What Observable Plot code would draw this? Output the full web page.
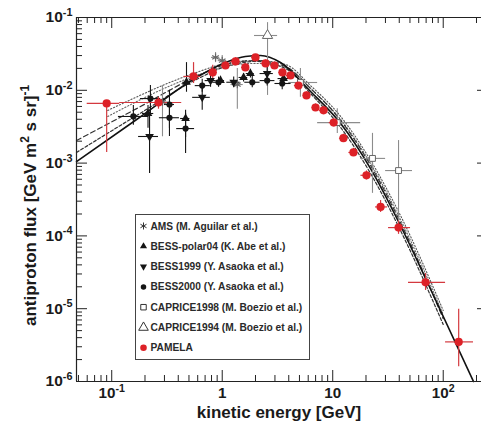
<!DOCTYPE html>
<html><head><meta charset="utf-8">
<script src="https://cdn.jsdelivr.net/npm/d3@7"></script>
<script src="https://cdn.jsdelivr.net/npm/@observablehq/plot@0.6"></script>
<style>
body{margin:0;background:#fff;}
#chart{position:relative;width:481px;height:427px;overflow:hidden;}
</style></head><body><div id="chart"></div>
<script>
// ---------- axis definitions ----------
const xDomain = [0.048, 222];
const yDomain = [1e-6, 0.1];
const xMajor = [0.1, 1, 10, 100];
const xMajorLabels = ["10^{-1}", "1", "10", "10^{2}"];
const xMinor = [0.05,0.06,0.07,0.08,0.09,0.2,0.3,0.4,0.5,0.6,0.7,0.8,0.9,2,3,4,5,6,7,8,9,20,30,40,50,60,70,80,90,200];
const yMajor = [1e-6, 1e-5, 1e-4, 1e-3, 1e-2, 1e-1];
const yMajorLabels = ["10^{-6}", "10^{-5}", "10^{-4}", "10^{-3}", "10^{-2}", "10^{-1}"];
const yMinor = [2e-6,3e-6,4e-6,5e-6,6e-6,7e-6,8e-6,9e-6,2e-5,3e-5,4e-5,5e-5,6e-5,7e-5,8e-5,9e-5,2e-4,3e-4,4e-4,5e-4,6e-4,7e-4,8e-4,9e-4,2e-3,3e-3,4e-3,5e-3,6e-3,7e-3,8e-3,9e-3,2e-2,3e-2,4e-2,5e-2,6e-2,7e-2,8e-2,9e-2];
const xTitle = "kinetic energy [GeV]";
const yTitle = "antiproton flux [GeV m^{2} s sr]^{-1}";

// ---------- model curves ----------
const solidE = [0.048, 0.168, 0.585, 1.07, 1.62, 2.22, 3.37, 6.3, 11.8, 22, 41, 72, 188];
const solidF = [1.05e-3, 3.97e-3, 0.015, 0.0241, 0.0291, 0.0301, 0.0241, 0.00964, 0.0035, 8.4e-4, 1.39e-4, 2.29e-5, 1e-6];
const dashAE = [0.048, 0.168, 0.585, 1.07, 2.0, 3.74, 6.3, 11.8, 22, 41, 100];
const dashAF = [2.04e-3, 5.6e-3, 0.0155, 0.0226, 0.0256, 0.0212, 0.0106, 3.85e-3, 9.3e-4, 1.53e-4, 7.3e-6];
const dashBE = [0.048, 0.168, 0.585, 1.07, 2.0, 3.74, 6.3, 11.8, 22, 41, 100];
const dashBF = [1.4e-3, 4.5e-3, 0.0141, 0.0212, 0.0249, 0.0199, 9.0e-3, 3.08e-3, 7.2e-4, 1.19e-4, 6.07e-6];
const dotAE = [0.092, 0.585, 1.07, 2.0, 3.74, 6.3, 11.8, 22, 41, 100];
const dotAF = [5.28e-3, 0.0176, 0.0234, 0.0256, 0.0226, 0.0116, 4.37e-3, 1.09e-3, 1.91e-4, 9.45e-6];
const dotBE = [0.092, 0.585, 1.07, 2.0, 3.74, 6.3, 11.8, 22, 41, 100];
const dotBF = [4.37e-3, 0.016, 0.0212, 0.0234, 0.0206, 0.0106, 3.97e-3, 9.9e-4, 1.68e-4, 8.32e-6];

// ---------- experiments ----------
const pamE   = [0.09, 0.265, 0.55, 0.82, 1.07, 1.32, 1.62, 2.0, 2.47, 2.97, 3.51, 4.15, 4.9, 5.79, 6.99, 8.26, 10.2, 12.5, 15.4, 20.2, 27.1, 39.4, 69.2, 138];
const pamF   = [6.6e-3, 6.8e-3, 0.0155, 0.0176, 0.0219, 0.0249, 0.0206, 0.0283, 0.0234, 0.0219, 0.0176, 0.016, 0.0116, 8.5e-3, 5.8e-3, 5.3e-3, 3.6e-3, 2.2e-3, 1.4e-3, 6.8e-4, 2.5e-4, 1.3e-4, 2.3e-5, 3.5e-6];
const pamElo = [0.06, 0.118, 0.45, 0.75, 0.98, 1.2, 1.5, 1.85, 2.25, 2.75, 3.25, 3.8, 4.5, 5.4, 6.5, 7.6, 9.3, 11.5, 14, 18, 24.4, 32, 48.5, 105];
const pamEhi = [0.118, 0.43, 0.64, 0.9, 1.16, 1.45, 1.75, 2.15, 2.7, 3.2, 3.8, 4.5, 5.3, 6.2, 7.5, 9.0, 11.1, 13.6, 16.8, 22, 31.3, 50.6, 105, 188];
const pamFlo = [1.4e-3, 5.5e-3, 0.0124, 0.0145, 0.0195, 0.0225, 0.0185, 0.0258, 0.021, 0.0197, 0.0158, 0.0143, 0.0104, 7.6e-3, 5.2e-3, 4.7e-3, 3.2e-3, 1.95e-3, 1.24e-3, 5.9e-4, 2.1e-4, 1.05e-4, 1.78e-5, 1.6e-6];
const pamFhi = [6.9e-3, 8.0e-3, 0.024, 0.022, 0.025, 0.028, 0.023, 0.031, 0.026, 0.0242, 0.0196, 0.0178, 0.013, 9.5e-3, 6.5e-3, 6.0e-3, 4.1e-3, 2.5e-3, 1.6e-3, 7.8e-4, 3.06e-4, 1.6e-4, 3.05e-5, 9.8e-6];

const amsE   = [0.288, 0.87, 1.0, 1.37];
const amsF   = [6.9e-3, 0.0283, 0.0256, 0.012];
const amsElo = [0.25, 0.8, 0.92, 1.2];
const amsEhi = [0.33, 0.95, 1.1, 1.55];
const amsFlo = [2.3e-3, 0.024, 0.022, 5.5e-3];
const amsFhi = [0.0116, 0.033, 0.03, 0.02];

const bp04E   = [0.213, 0.466, 0.475, 0.965, 1.56, 1.8, 3.59];
const bp04F   = [4.8e-3, 4.1e-3, 0.0129, 0.0136, 0.015, 0.017, 0.0145];
const bp04Elo = [0.19, 0.42, 0.44, 0.88, 1.42, 1.65, 3.2];
const bp04Ehi = [0.24, 0.51, 0.51, 1.05, 1.7, 1.95, 4.0];
const bp04Flo = [3.0e-3, 2.25e-3, 9.4e-3, 0.0118, 0.013, 0.0148, 0.0125];
const bp04Fhi = [6.2e-3, 4.8e-3, 0.024, 0.0156, 0.017, 0.0195, 0.0165];

const b99E   = [0.22, 0.659, 0.784, 1.27, 2.55];
const b99F   = [2.32e-3, 8.0e-3, 0.0136, 0.0129, 0.017];
const b99Elo = [0.175, 0.54, 0.7, 1.1, 2.2];
const b99Ehi = [0.265, 0.78, 0.88, 1.45, 2.9];
const b99Flo = [7.2e-4, 5.3e-3, 0.011, 0.0108, 0.014];
const b99Fhi = [4.5e-3, 0.011, 0.0165, 0.0152, 0.0205];

const b00E   = [0.157, 0.224, 0.333, 0.333, 0.466, 0.659, 0.926, 1.87, 2.55, 3.49];
const b00F   = [4.37e-3, 7.7e-3, 6.38e-3, 4.2e-3, 2.98e-3, 0.0116, 0.0129, 0.0129, 0.0136, 0.0124];
const b00Elo = [0.115, 0.182, 0.3, 0.27, 0.387, 0.57, 0.82, 1.6, 2.2, 3.0];
const b00Ehi = [0.216, 0.277, 0.37, 0.41, 0.562, 0.78, 1.05, 2.2, 3.0, 4.2];
const b00Flo = [3.3e-3, 4.8e-3, 2.32e-3, 3.0e-3, 1.36e-3, 9.4e-3, 0.011, 0.0108, 0.0115, 0.0102];
const b00Fhi = [6.2e-3, 0.0116, 0.01, 5.6e-3, 5.3e-3, 0.0142, 0.0152, 0.0155, 0.016, 0.015];

const c98E   = [5.1, 11.0, 22.9, 39.4];
const c98F   = [0.0128, 3.6e-3, 1.16e-3, 7.9e-4];
const c98Elo = [4.0, 7.3, 17.9, 30.1];
const c98Ehi = [7.3, 17.9, 30.1, 52.7];
const c98Flo = [8.0e-3, 2.56e-3, 3.84e-4, 1.39e-4];
const c98Fhi = [0.02, 5.6e-3, 2.56e-3, 2.04e-3];

const c94E   = [2.57];
const c94F   = [0.0566];
const c94Elo = [1.96];
const c94Ehi = [3.17];
const c94Flo = [8.5e-3];
const c94Fhi = [0.085];

const legendLabels = ["AMS (M. Aguilar et al.)", "BESS-polar04 (K. Abe et al.)", "BESS1999 (Y. Asaoka et al.)", "BESS2000 (Y. Asaoka et al.)", "CAPRICE1998 (M. Boezio et al.)", "CAPRICE1994 (M. Boezio et al.)", "PAMELA"];

// ---------- helpers ----------
const curveRows = (E, F) => E.map((e, i) => ({E: e, F: F[i]}));
const rows = (E, F, Elo, Ehi, Flo, Fhi) => E.map((e, i) => ({E: e, F: F[i], Elo: Elo[i], Ehi: Ehi[i], Flo: Flo[i], Fhi: Fhi[i]}));
const sqrt3 = Math.sqrt(3);
const triDown = {draw(ctx, size) {
  const y = -Math.sqrt(size / (sqrt3 * 3));
  ctx.moveTo(0, -y * 2); ctx.lineTo(-sqrt3 * y, y); ctx.lineTo(sqrt3 * y, y); ctx.closePath();
}};

const BLACK = "#151515", GRAY = "#8c8c8c", RED = "#dd2127", REDBAR = "#d4393f";

const pam = rows(pamE, pamF, pamElo, pamEhi, pamFlo, pamFhi);
const ams = rows(amsE, amsF, amsElo, amsEhi, amsFlo, amsFhi);
const bp04 = rows(bp04E, bp04F, bp04Elo, bp04Ehi, bp04Flo, bp04Fhi);
const b99 = rows(b99E, b99F, b99Elo, b99Ehi, b99Flo, b99Fhi);
const b00 = rows(b00E, b00F, b00Elo, b00Ehi, b00Flo, b00Fhi);
const c98 = rows(c98E, c98F, c98Elo, c98Ehi, c98Flo, c98Fhi);
const c94 = rows(c94E, c94F, c94Elo, c94Ehi, c94Flo, c94Fhi);

const errBars = (data, color, w = 1.1) => [
  Plot.ruleX(data, {x: "E", y1: "Flo", y2: "Fhi", stroke: color, strokeWidth: w}),
  Plot.ruleY(data, {y: "F", x1: "Elo", x2: "Ehi", stroke: color, strokeWidth: w})
];

const PH = 427 - 17 - 46, PW = 481 - 76;
const fontFam = "'Liberation Sans', Arial, Helvetica, sans-serif";

const plot = Plot.plot({
  width: 481, height: 427,
  marginTop: 17, marginBottom: 46, marginLeft: 76, marginRight: 0,
  x: {type: "log", domain: xDomain},
  y: {type: "log", domain: yDomain},
  style: {fontFamily: fontFam, background: "#fff", color: "#1a1a1a", overflow: "hidden"},
  marks: [
    // model curves
    Plot.line(curveRows(dotAE, dotAF), {x: "E", y: "F", curve: "monotone-x", stroke: "#555", strokeWidth: 1.1, strokeDasharray: "1.2,2"}),
    Plot.line(curveRows(dotBE, dotBF), {x: "E", y: "F", curve: "monotone-x", stroke: "#666", strokeWidth: 1.1, strokeDasharray: "1.2,2"}),
    Plot.line(curveRows(dashAE, dashAF), {x: "E", y: "F", curve: "monotone-x", stroke: "#333", strokeWidth: 1.2, strokeDasharray: "5,3"}),
    Plot.line(curveRows(dashBE, dashBF), {x: "E", y: "F", curve: "monotone-x", stroke: "#333", strokeWidth: 1.2, strokeDasharray: "3,2"}),
    Plot.line(curveRows(solidE, solidF), {x: "E", y: "F", curve: "monotone-x", stroke: "#111", strokeWidth: 1.6}),
    // error bars
    ...errBars(ams, GRAY),
    ...errBars(c98, GRAY),
    ...errBars(c94, GRAY),
    ...errBars(bp04, BLACK),
    ...errBars(b99, BLACK),
    ...errBars(b00, BLACK),
    ...errBars(pam, REDBAR, 1.2),
    // markers
    Plot.dot(ams, {x: "E", y: "F", symbol: "asterisk", r: 3.6, stroke: "#666", strokeWidth: 1.2}),
    Plot.dot(c98, {x: "E", y: "F", symbol: "square", r: 3.3, fill: "#fff", stroke: "#666", strokeWidth: 1}),
    Plot.dot(c94, {x: "E", y: "F", symbol: "triangle", r: 3.8, fill: "#fff", stroke: "#666", strokeWidth: 1}),
    Plot.dot(bp04, {x: "E", y: "F", symbol: "triangle", r: 3.2, fill: BLACK}),
    Plot.dot(b99, {x: "E", y: "F", symbol: triDown, r: 3.2, fill: BLACK}),
    Plot.dot(b00, {x: "E", y: "F", r: 3.1, fill: BLACK}),
    Plot.dot(pam, {x: "E", y: "F", r: 4.1, fill: RED}),
    // frame
    Plot.ruleX([xDomain[0]], {stroke: "#222", strokeWidth: 1.2}),
    Plot.ruleY(yDomain, {stroke: "#222", strokeWidth: 1.2}),
    // inward ticks
    Plot.tickX(xMajor, {x: d => d, insetTop: PH - 11, stroke: "#222"}),
    Plot.tickX(xMinor, {x: d => d, insetTop: PH - 6, stroke: "#222"}),
    Plot.tickX(xMajor, {x: d => d, insetBottom: PH - 11, stroke: "#222"}),
    Plot.tickX(xMinor, {x: d => d, insetBottom: PH - 6, stroke: "#222"}),
    Plot.tickY(yMajor, {y: d => d, insetRight: PW - 11, stroke: "#222"}),
    Plot.tickY(yMinor, {y: d => d, insetRight: PW - 6, stroke: "#222"}),
    Plot.tickY(yMajor, {y: d => d, insetLeft: PW - 4, stroke: "#222"}),
    // tick labels
    Plot.axisX(xMajor, {anchor: "bottom", tickSize: 0, tickPadding: 6, label: null,
      tickFormat: d => xMajorLabels[xMajor.indexOf(d)], fontSize: 15.2, fontWeight: "bold"}),
    Plot.axisY(yMajor, {anchor: "left", tickSize: 0, tickPadding: 4, label: null,
      tickFormat: d => yMajorLabels[yMajor.indexOf(d)], fontSize: 15.5, fontWeight: "bold"}),
    // titles
    Plot.text([xTitle], {frameAnchor: "bottom", dy: 36, fontSize: 17, fontWeight: "bold", fill: "#1a1a1a"}),
    Plot.text([yTitle], {frameAnchor: "left", textAnchor: "middle", dx: -46, dy: 6, rotate: -90, fontSize: 17, fontWeight: "bold", fill: "#1a1a1a"})
  ]
});

// superscript formatting for "^{...}"
const NS = "http://www.w3.org/2000/svg";
function supify(el) {
  const t = el.textContent;
  if (!t.includes("^{")) return;
  const fs = parseFloat(getComputedStyle(el).fontSize) || 14;
  const shift = 0.42 * fs;
  el.textContent = "";
  const re = /\^\{([^}]*)\}/g;
  let last = 0, m, raised = false;
  const add = (s, sup) => {
    if (!s) return;
    const ts = document.createElementNS(NS, "tspan");
    ts.textContent = s;
    if (sup) { ts.setAttribute("dy", -shift); ts.setAttribute("font-size", (0.7 * fs) + "px"); raised = true; }
    else if (raised) { ts.setAttribute("dy", shift); raised = false; }
    el.appendChild(ts);
  };
  while ((m = re.exec(t))) { add(t.slice(last, m.index), false); add(m[1], true); last = re.lastIndex; }
  add(t.slice(last), false);
}

document.getElementById("chart").appendChild(plot);
d3.select(plot).selectAll("text").each(function () { supify(this); });

// legend
const svg = d3.select(plot);
const lg = svg.append("g").attr("font-family", fontFam).attr("font-weight", "bold").attr("font-size", 10.2).attr("text-anchor", "start");
lg.append("rect").attr("x", 135.5).attr("y", 214.5).attr("width", 174).attr("height", 145)
  .attr("fill", "#fff").attr("stroke", "#444").attr("stroke-width", 1);
const legSym = [
  {type: d3.symbolAsterisk, size: 34, fill: "none", stroke: "#333"},
  {type: d3.symbolTriangle, size: 22, fill: BLACK, stroke: "none"},
  {type: triDown, size: 22, fill: BLACK, stroke: "none"},
  {type: d3.symbolCircle, size: 24, fill: BLACK, stroke: "none"},
  {type: d3.symbolSquare, size: 30, fill: "#fff", stroke: "#333"},
  {type: d3.symbolTriangle, size: 40, fill: "#fff", stroke: "#333"},
  {type: d3.symbolCircle, size: 34, fill: RED, stroke: "none"}
];
legendLabels.forEach((lab, i) => {
  const cy = 226 + i * 20.3;
  const s = legSym[i];
  lg.append("path").attr("d", d3.symbol(s.type, s.size)()).attr("transform", `translate(143.5,${cy})`)
    .attr("fill", s.fill).attr("stroke", s.stroke).attr("stroke-width", 1);
  lg.append("text").attr("x", 150.5).attr("y", cy).attr("dy", "0.35em").attr("text-anchor", "start").attr("fill", "#2a2a2a").text(lab);
});
</script>
</body></html>
